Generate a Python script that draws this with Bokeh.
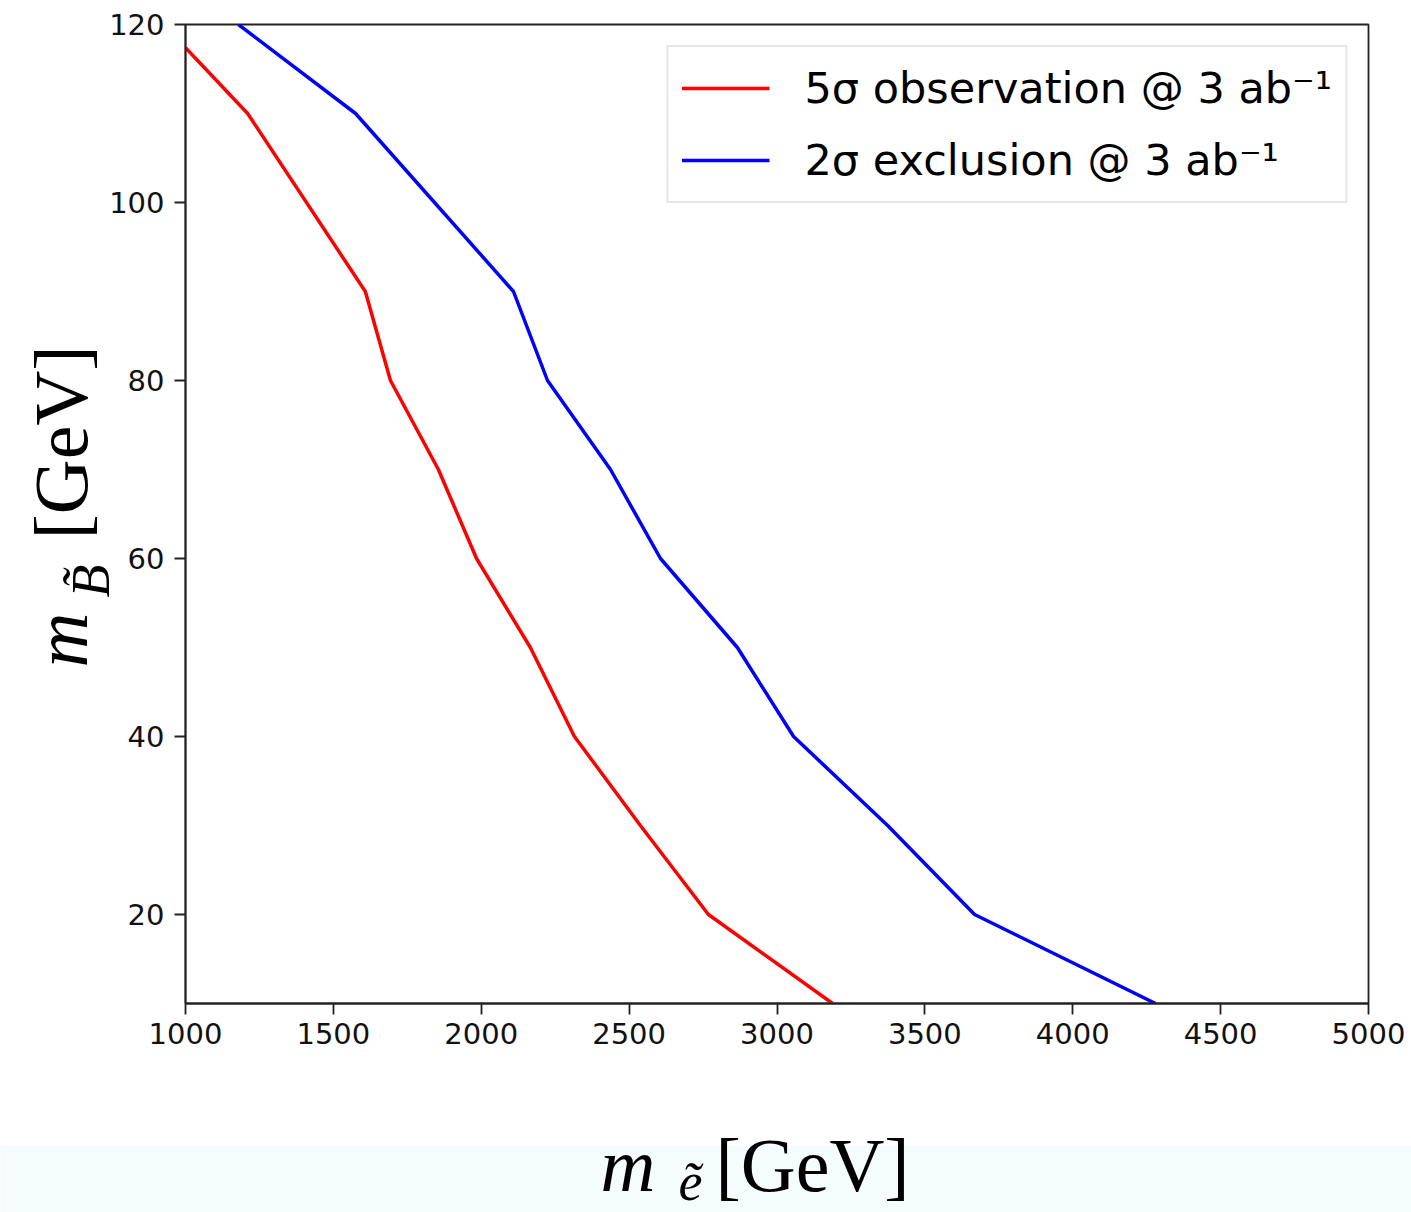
import math
from bokeh.plotting import figure
from bokeh.models import FixedTicker, Range1d, ColumnDataSource
from bokeh.core.properties import value
from bokeh.embed import file_html
from bokeh.resources import INLINE

# Data
m_slepton_obs = [1000, 1210, 1608, 1693, 1855, 1984, 2166, 2315, 2538, 2768, 3188]
m_bino_obs = [117.4, 110, 90, 80, 70, 60, 50, 40, 30, 20, 10]
m_slepton_exc = [1179, 1575, 2109, 2224, 2437, 2606, 2866, 3056, 3374, 3668, 4280]
m_bino_exc = [120, 110, 90, 80, 70, 60, 50, 40, 30, 20, 10]
x_ticks = [1000, 1500, 2000, 2500, 3000, 3500, 4000, 4500, 5000]
y_ticks = [20, 40, 60, 80, 100, 120]
label_obs = "5σ observation @ 3 ab⁻¹"
label_exc = "2σ exclusion @ 3 ab⁻¹"

X0, X1, Y0, Y1 = 1000, 5000, 10, 120
W, H = 1411, 1212
BL, BR, BT, BB = 185, 43, 24, 209
FL, FR, FT, FB = BL, W - BR, BT, H - BB


def dx(px):
    # canvas pixel -> data x
    return X0 + (px - FL) / (FR - FL) * (X1 - X0)


def dy(py):
    # canvas pixel -> data y
    return Y0 + (FB - py) / (FB - FT) * (Y1 - Y0)


p = figure(width=W, height=H, output_backend="svg", toolbar_location=None,
           x_range=Range1d(X0, X1), y_range=Range1d(Y0, Y1),
           min_border_left=BL, min_border_right=BR, min_border_top=BT, min_border_bottom=BB)
p.background_fill_color = "white"
p.border_fill_color = "white"
p.grid.visible = False
p.outline_line_color = "#222222"
p.outline_line_width = 1.8

p.line(m_slepton_obs, m_bino_obs, line_color="#ff0000", line_width=3.5, legend_label=label_obs)
p.line(m_slepton_exc, m_bino_exc, line_color="#0000ff", line_width=3.5, legend_label=label_exc)

for ax, ticks in ((p.xaxis, x_ticks), (p.yaxis, y_ticks)):
    ax.ticker = FixedTicker(ticks=ticks)
    ax.minor_tick_line_color = None
    ax.major_tick_in = 0
    ax.major_tick_out = 11
    ax.major_tick_line_width = 1.8
    ax.major_tick_line_color = "#222222"
    ax.axis_line_width = 1.8
    ax.axis_line_color = "#222222"
    ax.major_label_text_font = "DejaVu Sans"
    ax.major_label_text_font_size = "29px"
    ax.major_label_text_color = "#111111"
p.xaxis.major_label_standoff = 8
p.yaxis.major_label_standoff = 10

leg = p.legend[0]
leg.location = "top_right"
leg.margin = 21
leg.padding = 13
leg.spacing = 16
leg.label_text_font = "DejaVu Sans"
leg.label_text_font_size = "43px"
leg.label_text_color = "black"
leg.label_height = 56
leg.glyph_height = 56
leg.glyph_width = 88
leg.label_standoff = 35
leg.border_line_color = "#cccccc"
leg.border_line_width = 2
leg.background_fill_alpha = 1.0

# Bottom tinted band (drawn above the frame clip)
p.quad(left=[dx(0)], right=[dx(W)], bottom=[dy(H)], top=[dy(1145)],
       fill_color="#f4fcfc", line_color=None, level="annotation")

serif = value("Liberation Serif")
ang = math.pi / 2
big, small = 76, 54
sb, ss = 0.32 * big, 0.32 * small  # baseline compensation
label_src = ColumnDataSource(dict(
    x=[dx(600), dx(678), dx(715), dx(85 - sb), dx(108 - ss), dx(85 - sb)],
    y=[dy(1189 - sb), dy(1199 - ss), dy(1189 - sb), dy(667), dy(597), dy(539)],
    text=["m", "ẽ", "[GeV]", "m", "B̃", "[GeV]"],
    style=["italic", "italic", "normal", "italic", "italic", "normal"],
    size=[f"{big}px", f"{small}px", f"{big}px", f"{big}px", f"{small}px", f"{big}px"],
    angle=[0, 0, 0, ang, ang, ang],
))
p.text(x="x", y="y", text="text", source=label_src, text_font=serif,
       text_font_style="style", text_font_size="size", angle="angle",
       text_align="left", text_baseline="alphabetic", text_color="black",
       level="overlay")

open("out.html", "w").write(file_html(p, INLINE))
